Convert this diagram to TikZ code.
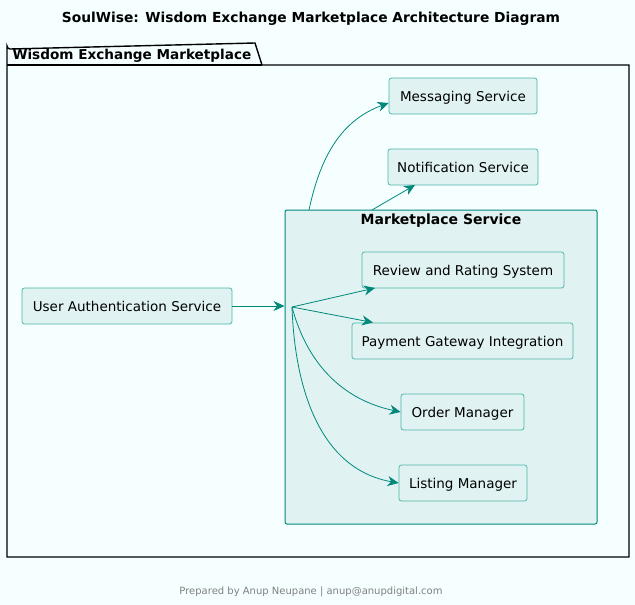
\documentclass[tikz,border=0pt]{standalone}
\usepackage{fontspec}
\setmainfont{DejaVu Sans}
\usepackage{xcolor}
\usetikzlibrary{arrows.meta,positioning,calc}

\definecolor{bgcyan}{HTML}{F5FFFF}
\definecolor{boxfill}{HTML}{E0F2F1}
\definecolor{boxline}{HTML}{4DB6AC}
\definecolor{tealline}{HTML}{00897B}

\begin{document}
\begin{tikzpicture}[x=1pt,y=-1pt,>={Stealth[length=11pt,width=10pt,inset=3.5pt]},
  svc/.style={draw=boxline,fill=boxfill,rounded corners=2.5pt,minimum height=36pt,line width=0.8pt,
    inner sep=0pt,text height=10pt,text depth=0pt,font=\fontsize{13.5}{16}\selectfont},
  link/.style={->,draw=tealline,line width=0.8pt}]
  % background and page margins
  \fill[bgcyan] (0,0) rectangle (635,605);
  \useasboundingbox (0,0) rectangle (635,605);
  \node[font=\bfseries\fontsize{13.8}{16}\selectfont] (title) at (311,19) {SoulWise: Wisdom Exchange Marketplace Architecture Diagram};

  % package frame
  \draw[line width=1.4pt] (7,65) -- (7,46) arc[start angle=180,end angle=90,radius=3] -- (255,43) -- (262,65) -- (629,65) -- (629,557) -- (7,557) -- cycle;
  \draw[line width=1.4pt] (7,65) -- (262,65);
  \node[font=\bfseries\fontsize{13.6}{16}\selectfont,anchor=west,text height=10pt,text depth=0pt] (pkg) at (9,54) {Wisdom Exchange Marketplace};

  % marketplace cluster
  \node[draw=tealline,fill=boxfill,rounded corners=2pt,line width=1pt,minimum width=312pt,minimum height=314pt] (ms) at (441,367) {};
  \node[font=\bfseries\fontsize{14}{16}\selectfont,text height=10pt,text depth=0pt] (mslabel) at (441,219) {Marketplace Service};

  % services
  \node[svc,minimum width=148pt] (msg) at (463,96) {Messaging Service};
  \node[svc,minimum width=150pt] (notif) at (463,167) {Notification Service};
  \node[svc,minimum width=202pt] (review) at (463,270) {Review and Rating System};
  \node[svc,minimum width=221pt] (pay) at (462.5,341) {Payment Gateway Integration};
  \node[svc,minimum width=123pt] (order) at (462.5,412) {Order Manager};
  \node[svc,minimum width=128pt] (listing) at (463,483) {Listing Manager};
  \node[svc,minimum width=210pt] (auth) at (127,306) {User Authentication Service};

  % connectors
  \coordinate (hub) at (292,307);
  \coordinate (top1) at (309,210);
  \coordinate (top2) at (372,210);
  \draw[link] (auth) -- (ms.west |- auth);
  \draw[link] (hub) -- (375,288);
  \draw[link] (hub) -- (373,322.5);
  \draw[link] (hub) to[out=-75,in=168] (order.west);
  \draw[link] (hub) to[out=-88,in=170] (listing.west);
  \draw[link] (top1) to[out=78,in=200] ($(msg.west)+(0,7)$);
  \draw[link] (top2) -- (415,185);

  % footer
  \node[text=gray,font=\fontsize{10}{12}\selectfont] (footer) at (311,592) {Prepared by Anup Neupane | anup@anupdigital.com};
\end{tikzpicture}
\end{document}
